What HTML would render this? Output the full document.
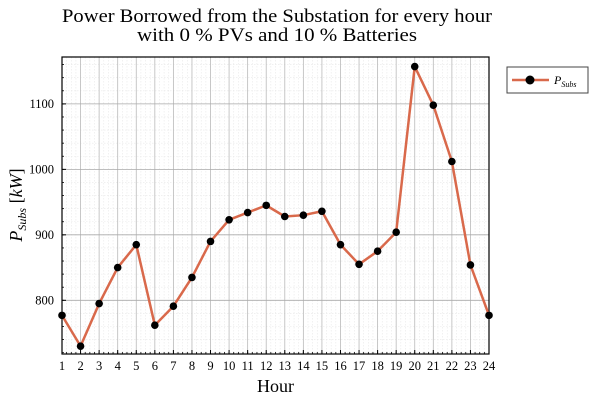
<!DOCTYPE html>
<html><head><meta charset="utf-8">
<style>
html,body{margin:0;padding:0;background:#fff;}
svg{display:block;font-family:"Liberation Serif",serif;}
</style></head>
<body>
<svg id="chart" width="600" height="400" viewBox="0 0 600 400" xmlns="http://www.w3.org/2000/svg">
<text x="62" y="22" font-size="18.5" textLength="430" lengthAdjust="spacingAndGlyphs">Power Borrowed from the Substation for every hour</text>
<text x="137" y="41" font-size="18.5" textLength="280" lengthAdjust="spacingAndGlyphs">with 0 % PVs and 10 % Batteries</text>
<g id="grid"></g>
<g id="axes"></g>
<g id="series"></g>
<text x="275.5" y="392" font-size="18" text-anchor="middle">Hour</text>
<text transform="translate(22,205) rotate(-90)" font-size="18" text-anchor="middle" font-style="italic">P<tspan font-size="12" dy="4">Subs</tspan><tspan dy="-4" font-style="normal"> [</tspan>kW<tspan font-style="normal">]</tspan></text>
<g>
<rect x="507" y="67" width="81" height="26" fill="#fff" stroke="#444" stroke-width="1"/>
<line x1="512" y1="80" x2="549" y2="80" stroke="#d9694b" stroke-width="2.5"/>
<circle cx="530" cy="80" r="4.5" fill="#000"/>
<text x="554" y="84" font-size="12" font-style="italic">P<tspan font-size="8" dy="3">Subs</tspan></text>
</g>
</svg>
<script>
const hours = [1,2,3,4,5,6,7,8,9,10,11,12,13,14,15,16,17,18,19,20,21,22,23,24];
const pSubs = [777,730,795,850,885,762,791,835,890,923,934,945,928,930,936,885,855,875,904,1157,1098,1012,854,777];
const yTicks = [800,900,1000,1100];

const L=62,R=489,T=57,B=354;
const xMin=1,xMax=24,yMin=718,yMax=1171.6;
const xs=v=>L+(v-xMin)/(xMax-xMin)*(R-L);
const ys=v=>B-(v-yMin)/(yMax-yMin)*(B-T);
const NS="http://www.w3.org/2000/svg";
function mk(tag,attrs,parent){const e=document.createElementNS(NS,tag);for(const k in attrs)e.setAttribute(k,attrs[k]);parent.appendChild(e);return e;}
const grid=document.getElementById('grid'),axes=document.getElementById('axes'),series=document.getElementById('series');

for(let h=xMin;h<xMax;h+=0.25){const x=xs(h);
  const l=mk('line',{x1:x,y1:T,x2:x,y2:B,stroke:'#e8e8e8','stroke-width':0.6,'stroke-dasharray':'1.5 1.5'},grid);
  
  }
for(let v=720;v<yMax;v+=20){const y=ys(v);
  const l=mk('line',{x1:L,y1:y,x2:R,y2:y,stroke:'#e8e8e8','stroke-width':0.6,'stroke-dasharray':'1.5 1.5'},grid);
  
  }
hours.forEach(h=>{const x=xs(h);
  const l=mk('line',{x1:x,y1:T,x2:x,y2:B,stroke:'#bbb','stroke-width':0.8},grid);
  
  
  const t=mk('line',{x1:x,y1:B,x2:x,y2:B-4,stroke:'#000','stroke-width':1},axes);
  
  
  const tx=mk('text',{x:x,y:B+16,'font-size':12.5,'text-anchor':'middle'},axes);
  tx.textContent=h;
  
  });
for(let h=xMin;h<xMax;h+=0.25){const x=xs(h);
  const t=mk('line',{x1:x,y1:B,x2:x,y2:B-2,stroke:'#000','stroke-width':0.8},axes);
  
  }
for(let v=720;v<yMax;v+=20){const y=ys(v);
  const t=mk('line',{x1:L,y1:y,x2:L+2,y2:y,stroke:'#000','stroke-width':0.8},axes);
  
  }
yTicks.forEach(v=>{const y=ys(v);
  const l=mk('line',{x1:L,y1:y,x2:R,y2:y,stroke:'#aaa','stroke-width':0.8},grid);
  
  
  const t=mk('line',{x1:L,y1:y,x2:L+4,y2:y,stroke:'#000','stroke-width':1},axes);
  
  
  const tx=mk('text',{x:L-8,y:y+4,'font-size':12.5,'text-anchor':'end'},axes);
  tx.textContent=v;
  
  });
const frame=mk('rect',{x:L,y:T,width:R-L,height:B-T,fill:'none',stroke:'#000','stroke-width':1.2},axes);



const pts=hours.map((h,i)=>xs(h)+','+ys(pSubs[i])).join(' ');
const pl=mk('polyline',{points:pts,fill:'none',stroke:'#d9694b','stroke-width':2.5,'stroke-linejoin':'round'},series);


hours.forEach((h,i)=>{
  const c=mk('circle',{cx:xs(h),cy:ys(pSubs[i]),r:3.8,fill:'#000'},series);
  
  });
</script>
</body></html>
